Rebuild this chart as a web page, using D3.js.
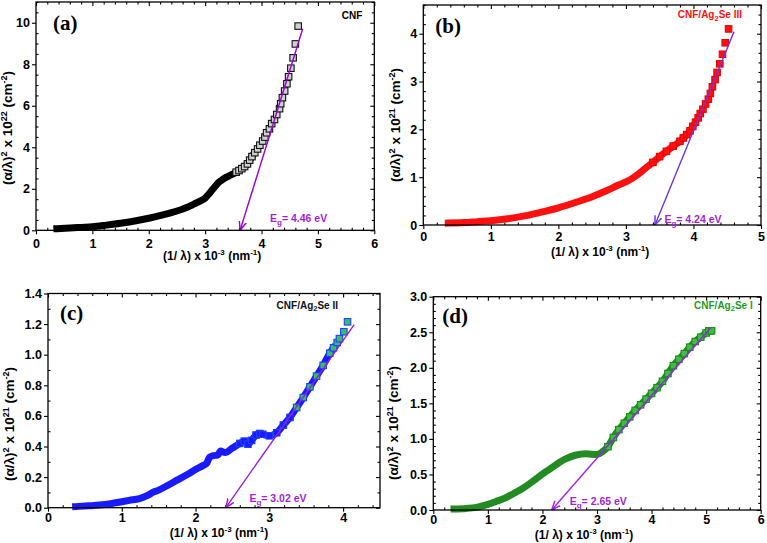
<!DOCTYPE html>
<html>
<head>
<meta charset="utf-8">
<script src="https://cdn.jsdelivr.net/npm/d3@7"></script>
<style>
  body { margin: 0; background: #fff; }
  text { font-family: "Liberation Sans", Arial, sans-serif; font-weight: bold; }
</style>
</head>
<body>
<svg id="fig" width="767" height="543"></svg>
<script>
// (a) CNF
const cnfX = [0.37, 0.6, 0.8, 1.0, 1.25, 1.5, 1.75, 2.0, 2.25, 2.5, 2.7, 2.8, 2.9, 3.0, 3.05, 3.1, 3.15, 3.2, 3.25, 3.3,
  3.35, 3.4, 3.45, 3.5, 3.55, 3.6, 3.65, 3.7, 3.75, 3.79, 3.83, 3.88, 3.93, 3.97, 4.02, 4.06, 4.09, 4.14, 4.18, 4.23,
  4.27, 4.32, 4.34, 4.37, 4.41, 4.45, 4.48, 4.52, 4.56, 4.60, 4.65];
const cnfY = [0.08, 0.11, 0.14, 0.17, 0.25, 0.34, 0.45, 0.58, 0.74, 0.93, 1.13, 1.26, 1.39, 1.55, 1.7, 1.86, 2.03, 2.19, 2.33, 2.43,
  2.52, 2.59, 2.66, 2.72, 2.8, 2.88, 2.97, 3.07, 3.2, 3.38, 3.55, 3.74, 3.92, 4.1, 4.3, 4.49, 4.7, 4.89, 5.14, 5.34,
  5.58, 5.86, 6.1, 6.39, 6.71, 7.06, 7.4, 7.81, 8.31, 8.98, 9.84];
const cnfFitX = [4.73, 3.62];
const cnfFitY = [9.71, 0];

// (b) CNF/Ag2Se III
const ag3X = [0.37, 0.6, 0.8, 1.0, 1.25, 1.5, 1.75, 2.0, 2.25, 2.5, 2.7, 2.9, 3.0, 3.1, 3.2, 3.3, 3.4, 3.5, 3.6, 3.7,
  3.8, 3.85, 3.9, 3.95, 3.99, 4.03, 4.07, 4.10, 4.14, 4.18, 4.22, 4.25, 4.28, 4.32, 4.35, 4.39, 4.43, 4.47, 4.52];
const ag3Y = [0.04, 0.05, 0.07, 0.09, 0.13, 0.19, 0.27, 0.36, 0.47, 0.59, 0.71, 0.84, 0.9, 0.98, 1.08, 1.2, 1.31, 1.43, 1.54, 1.65,
  1.75, 1.82, 1.89, 1.97, 2.06, 2.15, 2.24, 2.33, 2.42, 2.53, 2.63, 2.75, 2.89, 3.04, 3.19, 3.37, 3.57, 3.81, 4.1];
const ag3FitX = [4.60, 3.43];
const ag3FitY = [4.04, 0];

// (c) CNF/Ag2Se II
const ag2X = [0.375, 0.55, 0.7, 0.85, 1.0, 1.1, 1.24, 1.35, 1.42, 1.5, 1.6, 1.75, 1.9, 2.0, 2.1, 2.15, 2.19, 2.24, 2.3, 2.34,
  2.4, 2.5, 2.6, 2.66, 2.71, 2.76, 2.82, 2.87, 2.91, 3.0, 3.1, 3.19, 3.28, 3.37, 3.46, 3.55, 3.64, 3.73, 3.82, 3.87,
  3.92, 3.95, 4.01, 4.06];
const ag2Y = [0.007, 0.012, 0.017, 0.026, 0.039, 0.048, 0.06, 0.08, 0.1, 0.115, 0.14, 0.18, 0.22, 0.25, 0.275, 0.29, 0.33, 0.34, 0.344, 0.37,
  0.36, 0.39, 0.42, 0.435, 0.415, 0.44, 0.475, 0.485, 0.48, 0.47, 0.49, 0.54, 0.59, 0.655, 0.72, 0.79, 0.86, 0.93, 1.01, 1.045,
  1.08, 1.105, 1.15, 1.215];
const ag2FitX = [4.15, 2.41];
const ag2FitY = [1.197, 0];

// (d) CNF/Ag2Se I
const ag1X = [0.38, 0.6, 0.79, 1.0, 1.15, 1.3, 1.5, 1.65, 1.8, 2.0, 2.2, 2.4, 2.6, 2.8, 3.0, 3.1, 3.2, 3.3, 3.4, 3.5,
  3.6, 3.7, 3.8, 3.9, 4.0, 4.1, 4.2, 4.3, 4.4, 4.5, 4.6, 4.7, 4.8, 4.9, 5.0, 5.05, 5.1];
const ag1Y = [0.014, 0.022, 0.037, 0.08, 0.12, 0.164, 0.244, 0.31, 0.39, 0.506, 0.61, 0.71, 0.77, 0.79, 0.78, 0.82, 0.89, 1.02, 1.13, 1.22,
  1.31, 1.4, 1.48, 1.56, 1.64, 1.72, 1.81, 1.92, 2.03, 2.12, 2.2, 2.29, 2.37, 2.43, 2.49, 2.52, 2.52];
const ag1FitX = [5.08, 2.17];
const ag1FitY = [2.56, 0];

const bandGaps = ["4.46", "4.24", "3.02", "2.65"];
const sampleNames = ["CNF", "CNF/Ag|2|Se III", "CNF/Ag|2|Se II", "CNF/Ag|2|Se I"];
const panelLetters = ["(a)", "(b)", "(c)", "(d)"];
const yExponents = ["22", "21", "21", "21"];

const svg = d3.select("#fig");
svg.append("rect").attr("width", 767).attr("height", 543).attr("fill", "#fff");

function range(a, b, s) {
  const out = [];
  for (let v = a; v <= b + 1e-9; v += s) out.push(+v.toFixed(4));
  return out;
}

function panel(o, i) {
  const x = d3.scaleLinear().domain(o.xDom).range([o.l, o.r]);
  const y = d3.scaleLinear().domain(o.yDom).range([o.b, o.t]);
  const g = svg.append("g");
  const xMaj = range(o.xDom[0], o.xDom[1], o.xStep);
  const xMin = range(o.xDom[0], o.xDom[1], o.xMinor).filter(v => !xMaj.some(m => Math.abs(m - v) < 1e-6));
  const yMaj = range(o.yDom[0], o.yMax, o.yStep);
  const yMin = range(o.yDom[0], o.yDom[1], o.yMinor).filter(v => !yMaj.some(m => Math.abs(m - v) < 1e-6));

  // bottom / left major (outward) with labels
  const bx = g.append("g").attr("transform", "translate(0," + o.b + ")")
    .call(d3.axisBottom(x).tickValues(xMaj).tickFormat(d3.format("d")).tickSize(4).tickPadding(o.xPad));
  const ly = g.append("g").attr("transform", "translate(" + o.l + ",0)")
    .call(d3.axisLeft(y).tickValues(yMaj).tickFormat(o.yFmt).tickSize(4).tickPadding(2));
  [bx, ly].forEach(a => {
    a.select(".domain").remove();
    a.selectAll("text").attr("font-size", 12.5).attr("fill", "#000");
  });
  // minor inward ticks, plus mirrored top/right ticks
  g.append("g").attr("transform", "translate(0," + o.b + ")")
    .call(d3.axisBottom(x).tickValues(xMin).tickFormat("").tickSize(-2.5));
  g.append("g").attr("transform", "translate(" + o.l + ",0)")
    .call(d3.axisLeft(y).tickValues(yMin).tickFormat("").tickSize(-2.5));
  g.append("g").attr("transform", "translate(0," + o.t + ")")
    .call(d3.axisTop(x).tickValues(xMaj).tickFormat("").tickSize(-4));
  g.append("g").attr("transform", "translate(0," + o.t + ")")
    .call(d3.axisTop(x).tickValues(xMin).tickFormat("").tickSize(-2.5));
  g.append("g").attr("transform", "translate(" + o.r + ",0)")
    .call(d3.axisRight(y).tickValues(yMaj).tickFormat("").tickSize(-4));
  g.append("g").attr("transform", "translate(" + o.r + ",0)")
    .call(d3.axisRight(y).tickValues(yMin).tickFormat("").tickSize(-2.5));
  g.selectAll(".domain").remove();
  g.selectAll(".tick line").attr("stroke", "#000").attr("stroke-width", 1.1);

  const pts = o.xs.map((v, k) => ({x: v, y: o.ys[k]}));

  // dense part of the curve: markers overlap into a solid band
  g.append("path")
    .datum(pts.filter(d => d.x <= o.band))
    .attr("fill", "none").attr("stroke", o.bandColor).attr("stroke-width", 7)
    .attr("stroke-linecap", "square").attr("stroke-linejoin", "round")
    .attr("d", d3.line().x(d => x(d.x)).y(d => y(d.y)).curve(d3.curveMonotoneX));

  const s = 6.5;
  g.selectAll("rect.pt").data(pts.filter(d => d.x >= o.sqFrom)).enter().append("rect")
    .attr("class", "pt")
    .attr("x", d => x(d.x) - s / 2).attr("y", d => y(d.y) - s / 2)
    .attr("width", s).attr("height", s)
    .attr("fill", d => (o.sqFill2 && d.x >= o.fill2From) ? o.sqFill2 : o.sqFill)
    .attr("stroke", o.sqStroke).attr("stroke-width", 1.1);

  // tangent line with arrow to the x axis
  const mid = "arr" + i;
  svg.append("defs").append("marker").attr("id", mid)
    .attr("viewBox", "0 0 10 10").attr("refX", 10).attr("refY", 5)
    .attr("markerWidth", 9).attr("markerHeight", 9).attr("markerUnits", "userSpaceOnUse")
    .attr("orient", "auto")
    .append("path").attr("d", "M0,1 L10,5 L0,9").attr("fill", "none")
    .attr("stroke", o.fitColor).attr("stroke-width", 1.6);
  g.append("line")
    .attr("x1", x(o.fitX[0])).attr("y1", y(o.fitY[0]))
    .attr("x2", x(o.fitX[1])).attr("y2", y(o.fitY[1]))
    .attr("stroke", o.fitColor).attr("stroke-width", 1.4)
    .attr("marker-end", "url(#" + mid + ")");

  // frame
  g.append("rect").attr("x", o.l).attr("y", o.t)
    .attr("width", o.r - o.l).attr("height", o.b - o.t)
    .attr("fill", "none").attr("stroke", "#000").attr("stroke-width", 1.3);

  // E_g label
  const eg = g.append("text").attr("x", x(o.egAt[0])).attr("y", y(o.egAt[1]))
    .attr("font-size", 10.5).attr("fill", "#a41fd6");
  eg.append("tspan").text("E");
  eg.append("tspan").attr("font-size", 8).attr("dy", 3).text("g");
  eg.append("tspan").attr("dy", -3).text("= " + bandGaps[i] + " eV");

  // sample name (subscript between bars)
  const parts = sampleNames[i].split("|");
  const nm = g.append("text").attr("x", o.r - o.nameDx).attr("y", o.t + o.nameDy)
    .attr("text-anchor", "end").attr("font-size", 10).attr("fill", o.nameColor);
  nm.append("tspan").text(parts[0]);
  if (parts.length > 1) {
    nm.append("tspan").attr("font-size", 7.5).attr("dy", 2.5).text(parts[1]);
    nm.append("tspan").attr("dy", -2.5).text(parts[2]);
  }

  // panel letter
  g.append("text").attr("x", o.l + o.letDx).attr("y", o.t + o.letDy)
    .style("font-family", "'Liberation Serif', 'Times New Roman', serif")
    .attr("font-size", 21).text(panelLetters[i]);

  // axis titles
  const xt = g.append("text").attr("x", (o.l + o.r) / 2 + o.xtDx).attr("y", o.b + o.xtDy)
    .attr("text-anchor", "middle").attr("font-size", 12);
  xt.append("tspan").text("(1/ \u03bb) x 10");
  xt.append("tspan").attr("font-size", 8).attr("dy", -5).text("-3");
  xt.append("tspan").attr("dy", 5).text(" (nm");
  xt.append("tspan").attr("font-size", 8).attr("dy", -5).text("-1");
  xt.append("tspan").attr("dy", 5).text(")");

  const yt = g.append("text")
    .attr("transform", "translate(" + o.ytX + "," + o.ytY + ") rotate(-90)")
    .attr("text-anchor", "middle").attr("font-size", 13.5);
  yt.append("tspan").text("(\u03b1/\u03bb)");
  yt.append("tspan").attr("font-size", 9).attr("dy", -5).text("2");
  yt.append("tspan").attr("dy", 5).text(" x 10");
  yt.append("tspan").attr("font-size", 9).attr("dy", -5).text(yExponents[i]);
  yt.append("tspan").attr("dy", 5).text(" (cm");
  yt.append("tspan").attr("font-size", 9).attr("dy", -5).text("-2");
  yt.append("tspan").attr("dy", 5).text(")");
}

const panels = [
  {l: 36, r: 374.3, t: 2, b: 230.3, xDom: [0, 6], yDom: [0, 11], yMax: 10,
   xStep: 1, xMinor: 0.2, yStep: 2, yMinor: 0.5, yFmt: d3.format("d"), xPad: 4.5,
   xs: cnfX, ys: cnfY, fitX: cnfFitX, fitY: cnfFitY,
   band: 3.85, sqFrom: 3.55, bandColor: "#000", sqFill: "#d0d0d0", sqStroke: "#111",
   fitColor: "#9a00d8", egAt: [4.15, 0.4], nameColor: "#000", nameDx: 12, nameDy: 17,
   letDx: 17, letDy: 28, xtDx: 7, xtDy: 30, ytX: 12, ytY: 128},
  {l: 423.3, r: 761, t: 5, b: 225, xDom: [0, 5], yDom: [0, 4.6], yMax: 4,
   xStep: 1, xMinor: 0.2, yStep: 1, yMinor: 0.2, yFmt: d3.format("d"), xPad: 3,
   xs: ag3X, ys: ag3Y, fitX: ag3FitX, fitY: ag3FitY,
   band: 4.0, sqFrom: 3.4, bandColor: "#ff1010", sqFill: "#ff1010", sqStroke: "#ee0000",
   fitColor: "#6b35e6", egAt: [3.57, 0.05], nameColor: "#ff1010", nameDx: 19, nameDy: 13,
   letDx: 12, letDy: 28, xtDx: 8, xtDy: 31, ytX: 400, ytY: 125},
  {l: 48, r: 380, t: 293.5, b: 507.7, xDom: [0, 4.5], yDom: [0, 1.4], yMax: 1.4,
   xStep: 1, xMinor: 0.2, yStep: 0.2, yMinor: 0.1, yFmt: d3.format(".1f"), xPad: 1.5,
   xs: ag2X, ys: ag2Y, fitX: ag2FitX, fitY: ag2FitY,
   band: 3.9, sqFrom: 2.6, bandColor: "#1a1aff", sqFill: "#1a1aff", sqFill2: "#30c060", fill2From: 3.3,
   sqStroke: "#2040ff", fitColor: "#9a1fd8", egAt: [2.73, 0.035], nameColor: "#111", nameDx: 42, nameDy: 15,
   letDx: 12, letDy: 26, xtDx: 5, xtDy: 29, ytX: 14, ytY: 424},
  {l: 433.3, r: 760.7, t: 296.7, b: 510, xDom: [0, 6], yDom: [0, 3], yMax: 3,
   xStep: 1, xMinor: 0.2, yStep: 0.5, yMinor: 0.1, yFmt: d3.format(".1f"), xPad: 1,
   xs: ag1X, ys: ag1Y, fitX: ag1FitX, fitY: ag1FitY,
   band: 5.1, sqFrom: 3.2, bandColor: "#228b22", sqFill: "#3cbf3c", sqStroke: "#1f8a1f",
   fitColor: "#a020f0", egAt: [2.5, 0.07], nameColor: "#1f9a1f", nameDx: 8, nameDy: 12,
   letDx: 9, letDy: 26, xtDx: -13, xtDy: 29, ytX: 398, ytY: 423}
];

panels.forEach(panel);
</script>
</body>
</html>
